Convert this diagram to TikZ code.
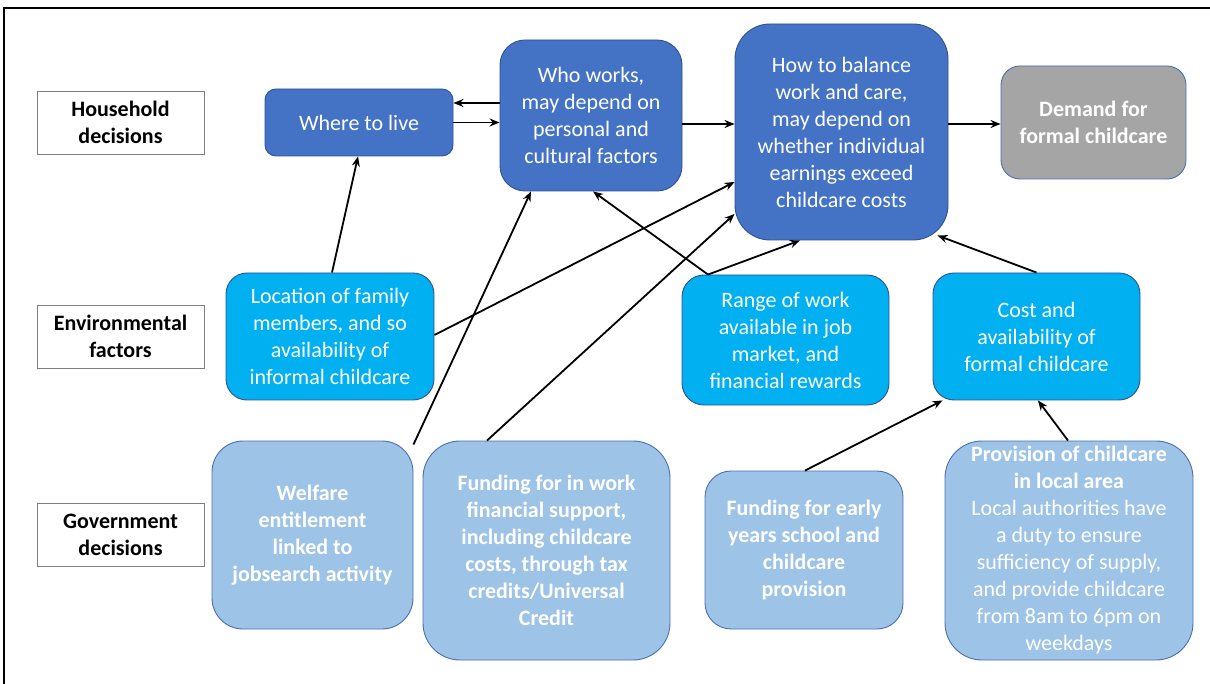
\documentclass[tikz,border=0pt]{standalone}
\usepackage{fontspec}
\setmainfont{Carlito}
\usetikzlibrary{calc,arrows.meta}

\definecolor{darkfill}{HTML}{4472C4}
\definecolor{cyanfill}{HTML}{00B0F0}
\definecolor{palefill}{HTML}{9DC3E6}
\definecolor{greyfill}{HTML}{A5A5A5}
\definecolor{edgeblue}{HTML}{2F528F}
\definecolor{paleedge}{HTML}{4A6FAF}
\definecolor{labeledge}{HTML}{7F7F7F}

\tikzset{
  box/.style={draw=edgeblue, line width=0.9pt, text=white, align=center,
    inner sep=0pt, font=\fontsize{22}{27}\selectfont},
  decision/.style={box, fill=darkfill},
  factor/.style={box, fill=cyanfill},
  govbox/.style={box, fill=palefill, draw=paleedge, font=\fontsize{22}{27}\selectfont\bfseries},
  demandbox/.style={box, fill=greyfill, draw=paleedge, font=\fontsize{22}{27}\selectfont\bfseries},
  rowlabel/.style={draw=labeledge, line width=0.8pt, fill=white, align=center,
    minimum width=167pt, minimum height=63pt, inner sep=0pt,
    font=\fontsize{22}{27}\selectfont\bfseries},
  arr/.style={line width=1.8pt, -{Stealth[length=10pt,width=8pt]}},
}

\begin{document}
\begin{tikzpicture}[x=1pt,y=-1pt]
  \useasboundingbox (0,0) rectangle (1210,684);
  % outer frame (open to the right and bottom)
  \draw[line width=2pt] (4,684) -- (4,8) -- (1212,8);

  % row labels
  \node[rowlabel] (hh)  at (120.5,122.5) {Household\\decisions};
  \node[rowlabel] (env) at (120.5,336.5) {Environmental\\factors};
  \node[rowlabel] (gov) at (120.5,534.5) {Government\\decisions};

  % household decisions
  \node[decision, minimum width=188pt, minimum height=67pt, rounded corners=11pt]
    (live) at (359,122.5) {Where to live};
  \node[decision, minimum width=182pt, minimum height=151pt, rounded corners=25pt]
    (who) at (591,115.5) {Who works,\\may depend on\\personal and\\cultural factors};
  \node[decision, minimum width=213pt, minimum height=216pt, rounded corners=35pt]
    (balance) at (841.5,132) {How to balance\\work and care,\\may depend on\\whether individual\\earnings exceed\\childcare costs};
  \node[demandbox, minimum width=185pt, minimum height=113pt, rounded corners=19pt]
    (demand) at (1093.5,122.5) {Demand for\\formal childcare};

  % environmental factors
  \node[factor, minimum width=208pt, minimum height=127pt, rounded corners=21pt]
    (location) at (330,336.5) {Location of family\\members, and so\\availability of\\informal childcare};
  \node[factor, minimum width=207pt, minimum height=130pt, rounded corners=22pt]
    (range) at (785.5,340) {Range of work\\available in job\\market, and\\financial rewards};
  \node[factor, minimum width=207pt, minimum height=127pt, rounded corners=21pt]
    (cost) at (1036.5,336.5) {Cost and\\availability of\\formal childcare};

  % government decisions
  \node[govbox, minimum width=201pt, minimum height=188pt, rounded corners=31pt]
    (welfare) at (312.5,535) {Welfare\\entitlement\\linked to\\jobsearch activity};
  \node[govbox, minimum width=247pt, minimum height=219pt, rounded corners=37pt]
    (fundwork) at (546.5,550.5) {Funding for in work\\financial support,\\including childcare\\costs, through tax\\credits/Universal\\Credit};
  \node[govbox, minimum width=198pt, minimum height=158pt, rounded corners=26pt]
    (early) at (804,550) {Funding for early\\years school and\\childcare\\provision};
  \node[box, fill=palefill, draw=paleedge, minimum width=248pt, minimum height=219pt, rounded corners=37pt]
    (provision) at (1069,550.5) {\textbf{Provision of childcare}\\\textbf{in local area}\\Local authorities have\\a duty to ensure\\sufficiency of supply,\\and provide childcare\\from 8am to 6pm on\\weekdays};

  % connectors
  \draw[arr] ($(who.west)+(0,-12.5)$) -- ($(live.east)+(0,-19.5)$);
  \draw[arr] ($(live.east)+(0,0)$) -- ($(who.west)+(0,7)$);
  \draw[arr] ($(who.east)+(0,8.5)$) -- ($(balance.west)+(0,-8)$);
  \draw[arr] ($(balance.east)+(0,-8)$) -- ($(demand.west)+(0,1.5)$);

  \draw[arr] ($(location.north)+(2,0)$) -- ($(live.south)+(-1,0)$);
  \draw[arr] ($(location.east)+(0,-1.5)$) -- ($(balance.west)+(0,50)$);
  \draw[arr] ($(range.north)+(-77.5,0)$) -- ($(who.south)+(2,0)$);
  \draw[arr] ($(range.north)+(-77.5,0)$) -- ($(balance.south)+(-41.5,0)$);
  \draw[arr] (cost.north) -- ($(balance.south east)+(-11,-5)$);

  \draw[arr] ($(welfare.north east)+(0,4)$) -- ($(who.south)+(-60,0)$);
  \draw[arr] ($(fundwork.north)+(-59.5,0)$) -- ($(balance.west)+(0,82)$);
  \draw[arr] ($(early.north)+(1,0)$) -- ($(cost.south west)+(10,0)$);
  \draw[arr] ($(provision.north)+(-1,0)$) -- ($(cost.south)+(1.5,0)$);
\end{tikzpicture}
\end{document}
